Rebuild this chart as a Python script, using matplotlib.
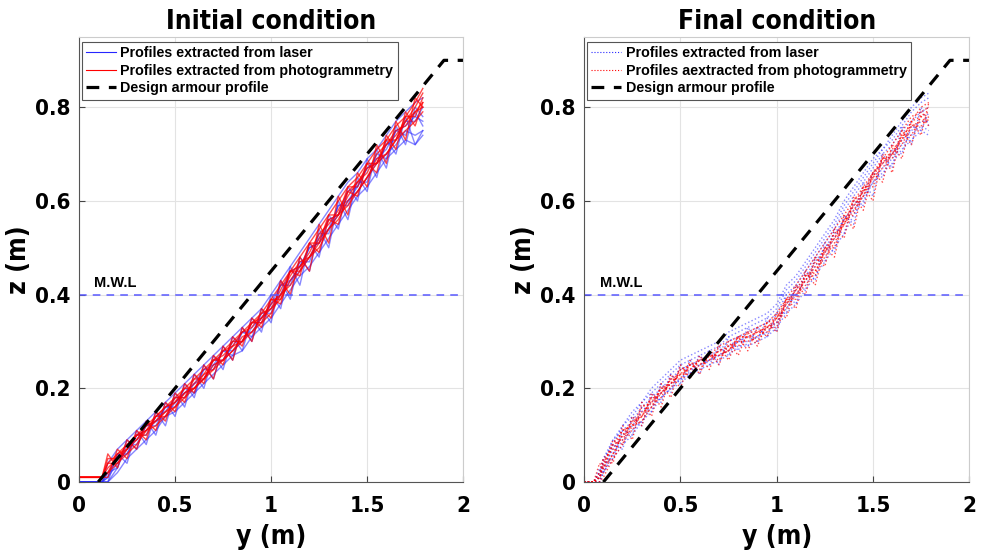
import numpy as np
import matplotlib
matplotlib.use("Agg")
from matplotlib import pyplot as plt
from matplotlib.lines import Line2D

plt.rcParams['font.family'] = ['DejaVu Sans']
plt.rcParams['font.stretch'] = 'condensed'
plt.rcParams['font.weight'] = 'bold'

# cross-shore stations (m) of the extracted profiles
y_init = [0.00, 0.12, 0.15, 0.20, 0.25, 0.30, 0.35, 0.40, 0.45, 0.50, 0.55, 0.60,
          0.65, 0.70, 0.75, 0.80, 0.85, 0.90, 0.95, 1.00, 1.05, 1.10, 1.15, 1.20,
          1.25, 1.30, 1.35, 1.40, 1.45, 1.50, 1.55, 1.60, 1.65, 1.70, 1.75, 1.79]
y_final = [0.00, 0.05, 0.08, 0.10, 0.15, 0.20, 0.25, 0.30, 0.35, 0.40, 0.45, 0.50,
           0.55, 0.60, 0.65, 0.70, 0.75, 0.80, 0.85, 0.90, 0.95, 1.00, 1.05, 1.10,
           1.15, 1.20, 1.25, 1.30, 1.35, 1.40, 1.45, 1.50, 1.55, 1.60, 1.65, 1.70,
           1.75, 1.79]

# initial condition - laser
laser_init = [
    [0, 0, 0.01, 0.06, 0.06, 0.10, 0.10, 0.14, 0.15, 0.18, 0.18, 0.21, 0.22, 0.26, 0.26, 0.30, 0.30, 0.34,
     0.34, 0.38, 0.40, 0.45, 0.46, 0.50, 0.51, 0.56, 0.57, 0.62, 0.63, 0.67, 0.68, 0.72, 0.73, 0.77, 0.77, 0.80],
    [0, 0, 0.00, 0.03, 0.08, 0.08, 0.12, 0.12, 0.16, 0.16, 0.20, 0.19, 0.24, 0.24, 0.28, 0.27, 0.32, 0.31,
     0.36, 0.36, 0.42, 0.42, 0.47, 0.47, 0.53, 0.53, 0.59, 0.59, 0.64, 0.64, 0.70, 0.69, 0.75, 0.74, 0.79, 0.76],
    [0, 0, 0.00, 0.02, 0.05, 0.07, 0.09, 0.11, 0.14, 0.15, 0.17, 0.19, 0.21, 0.23, 0.25, 0.27, 0.28, 0.31,
     0.33, 0.35, 0.38, 0.41, 0.44, 0.46, 0.49, 0.52, 0.55, 0.58, 0.61, 0.63, 0.66, 0.69, 0.71, 0.73, 0.72, 0.74],
    [0, 0, 0.04, 0.07, 0.09, 0.11, 0.13, 0.15, 0.17, 0.19, 0.21, 0.23, 0.25, 0.27, 0.29, 0.31, 0.33, 0.35,
     0.37, 0.40, 0.43, 0.46, 0.49, 0.52, 0.55, 0.58, 0.61, 0.64, 0.66, 0.69, 0.71, 0.74, 0.77, 0.79, 0.81, 0.82],
    [0, 0, 0.01, 0.04, 0.07, 0.09, 0.12, 0.13, 0.14, 0.17, 0.19, 0.20, 0.22, 0.25, 0.28, 0.28, 0.30, 0.33,
     0.35, 0.37, 0.40, 0.43, 0.45, 0.48, 0.52, 0.54, 0.57, 0.60, 0.62, 0.65, 0.68, 0.70, 0.72, 0.75, 0.74, 0.75],
    [0, 0, 0.02, 0.05, 0.06, 0.10, 0.11, 0.13, 0.16, 0.17, 0.19, 0.21, 0.24, 0.25, 0.26, 0.29, 0.32, 0.32,
     0.35, 0.38, 0.42, 0.43, 0.46, 0.50, 0.51, 0.54, 0.59, 0.60, 0.63, 0.67, 0.69, 0.71, 0.75, 0.76, 0.78, 0.77],
    [0, 0, 0.00, 0.06, 0.04, 0.11, 0.08, 0.15, 0.12, 0.19, 0.16, 0.23, 0.20, 0.27, 0.24, 0.31, 0.28, 0.35,
     0.32, 0.40, 0.37, 0.46, 0.42, 0.51, 0.48, 0.57, 0.54, 0.63, 0.60, 0.69, 0.65, 0.73, 0.70, 0.78, 0.72, 0.75],
    [0, 0, 0.02, 0.03, 0.09, 0.07, 0.13, 0.10, 0.17, 0.14, 0.21, 0.18, 0.25, 0.22, 0.29, 0.26, 0.33, 0.30,
     0.37, 0.34, 0.43, 0.39, 0.48, 0.45, 0.54, 0.50, 0.60, 0.56, 0.65, 0.62, 0.71, 0.67, 0.76, 0.72, 0.80, 0.78],
]

# initial condition - photogrammetry
photo_init = [
    [0.01, 0.01, 0.05, 0.05, 0.08, 0.09, 0.12, 0.13, 0.15, 0.17, 0.20, 0.20, 0.23, 0.26, 0.27, 0.29, 0.32, 0.33,
     0.36, 0.37, 0.41, 0.45, 0.46, 0.49, 0.53, 0.55, 0.58, 0.62, 0.64, 0.66, 0.70, 0.72, 0.74, 0.77, 0.80, 0.83],
    [0.01, 0.01, 0.02, 0.06, 0.07, 0.10, 0.11, 0.14, 0.16, 0.17, 0.19, 0.21, 0.23, 0.24, 0.28, 0.29, 0.30, 0.34,
     0.35, 0.38, 0.40, 0.44, 0.47, 0.48, 0.52, 0.56, 0.57, 0.61, 0.64, 0.67, 0.68, 0.72, 0.75, 0.76, 0.79, 0.81],
    [0.01, 0.01, 0.04, 0.04, 0.07, 0.10, 0.10, 0.14, 0.14, 0.18, 0.18, 0.22, 0.22, 0.26, 0.26, 0.30, 0.30, 0.34,
     0.34, 0.39, 0.39, 0.45, 0.45, 0.51, 0.51, 0.57, 0.57, 0.63, 0.63, 0.68, 0.68, 0.73, 0.73, 0.78, 0.78, 0.82],
    [0.01, 0.01, 0.03, 0.05, 0.07, 0.09, 0.11, 0.13, 0.15, 0.16, 0.18, 0.20, 0.22, 0.24, 0.26, 0.28, 0.30, 0.32,
     0.34, 0.36, 0.40, 0.42, 0.45, 0.48, 0.50, 0.54, 0.57, 0.59, 0.62, 0.65, 0.68, 0.70, 0.73, 0.75, 0.77, 0.79],
    [0.01, 0.01, 0.04, 0.06, 0.08, 0.10, 0.12, 0.14, 0.16, 0.18, 0.20, 0.22, 0.24, 0.26, 0.28, 0.30, 0.32, 0.34,
     0.36, 0.39, 0.42, 0.45, 0.48, 0.51, 0.54, 0.57, 0.60, 0.63, 0.65, 0.68, 0.71, 0.73, 0.76, 0.78, 0.81, 0.84],
    [0.01, 0.01, 0.02, 0.04, 0.06, 0.08, 0.11, 0.12, 0.14, 0.16, 0.19, 0.20, 0.22, 0.25, 0.26, 0.28, 0.31, 0.32,
     0.35, 0.37, 0.39, 0.43, 0.46, 0.48, 0.51, 0.54, 0.56, 0.60, 0.62, 0.65, 0.69, 0.70, 0.73, 0.77, 0.79, 0.80],
    [0.01, 0.01, 0.06, 0.03, 0.09, 0.07, 0.13, 0.11, 0.17, 0.15, 0.21, 0.19, 0.25, 0.22, 0.29, 0.26, 0.33, 0.30,
     0.37, 0.35, 0.43, 0.40, 0.48, 0.45, 0.55, 0.51, 0.61, 0.57, 0.66, 0.63, 0.72, 0.68, 0.77, 0.73, 0.82, 0.80],
    [0.01, 0.01, 0.01, 0.07, 0.05, 0.11, 0.09, 0.15, 0.13, 0.19, 0.17, 0.23, 0.21, 0.27, 0.25, 0.31, 0.29, 0.35,
     0.33, 0.39, 0.38, 0.45, 0.44, 0.51, 0.49, 0.56, 0.55, 0.62, 0.61, 0.68, 0.66, 0.74, 0.71, 0.79, 0.76, 0.81],
]

# final condition - laser
laser_final = [
    [0, 0, 0.01, 0.04, 0.09, 0.11, 0.13, 0.16, 0.18, 0.20, 0.22, 0.24, 0.25, 0.26, 0.27, 0.28, 0.30, 0.31, 0.32,
     0.33, 0.34, 0.36, 0.40, 0.42, 0.45, 0.48, 0.51, 0.54, 0.58, 0.61, 0.64, 0.67, 0.70, 0.72, 0.75, 0.77, 0.79, 0.80],
    [0, 0, 0.00, 0.02, 0.06, 0.09, 0.11, 0.13, 0.16, 0.18, 0.20, 0.21, 0.23, 0.24, 0.25, 0.26, 0.27, 0.29, 0.29,
     0.30, 0.31, 0.33, 0.36, 0.38, 0.41, 0.44, 0.47, 0.50, 0.53, 0.57, 0.60, 0.64, 0.66, 0.68, 0.71, 0.73, 0.75, 0.74],
    [0, 0, 0.02, 0.05, 0.08, 0.12, 0.14, 0.17, 0.19, 0.21, 0.23, 0.25, 0.26, 0.27, 0.28, 0.29, 0.31, 0.32, 0.33,
     0.34, 0.35, 0.37, 0.41, 0.43, 0.46, 0.49, 0.52, 0.55, 0.59, 0.62, 0.65, 0.68, 0.71, 0.73, 0.76, 0.79, 0.81, 0.82],
    [0, 0, 0.01, 0.03, 0.07, 0.10, 0.12, 0.15, 0.17, 0.19, 0.21, 0.22, 0.23, 0.25, 0.26, 0.27, 0.28, 0.30, 0.30,
     0.31, 0.33, 0.34, 0.37, 0.40, 0.43, 0.46, 0.49, 0.52, 0.56, 0.59, 0.62, 0.66, 0.68, 0.70, 0.73, 0.75, 0.77, 0.77],
    [0, 0, 0.00, 0.02, 0.05, 0.08, 0.10, 0.13, 0.15, 0.18, 0.20, 0.22, 0.24, 0.25, 0.26, 0.27, 0.29, 0.30, 0.31,
     0.31, 0.32, 0.34, 0.38, 0.41, 0.44, 0.47, 0.50, 0.53, 0.56, 0.58, 0.61, 0.64, 0.67, 0.69, 0.72, 0.74, 0.76, 0.75],
    [0, 0, 0.02, 0.05, 0.09, 0.12, 0.15, 0.17, 0.20, 0.22, 0.24, 0.26, 0.27, 0.28, 0.29, 0.30, 0.32, 0.33, 0.34,
     0.35, 0.36, 0.38, 0.42, 0.44, 0.47, 0.50, 0.53, 0.56, 0.60, 0.63, 0.66, 0.69, 0.71, 0.74, 0.77, 0.80, 0.82, 0.83],
    [0, 0, 0.03, 0.02, 0.08, 0.07, 0.14, 0.12, 0.19, 0.17, 0.23, 0.21, 0.26, 0.23, 0.28, 0.25, 0.31, 0.28, 0.33,
     0.30, 0.35, 0.32, 0.40, 0.38, 0.45, 0.43, 0.51, 0.49, 0.57, 0.55, 0.64, 0.61, 0.70, 0.67, 0.76, 0.72, 0.80, 0.76],
    [0, 0, 0.00, 0.04, 0.05, 0.11, 0.10, 0.16, 0.15, 0.21, 0.19, 0.25, 0.23, 0.27, 0.25, 0.29, 0.27, 0.31, 0.29,
     0.33, 0.31, 0.36, 0.36, 0.42, 0.41, 0.48, 0.47, 0.54, 0.53, 0.60, 0.59, 0.66, 0.65, 0.71, 0.70, 0.76, 0.75, 0.79],
]

# final condition - photogrammetry
photo_final = [
    [0, 0, 0.02, 0.03, 0.06, 0.10, 0.11, 0.15, 0.16, 0.20, 0.20, 0.24, 0.24, 0.26, 0.26, 0.28, 0.28, 0.31, 0.31,
     0.32, 0.32, 0.35, 0.38, 0.41, 0.43, 0.47, 0.49, 0.53, 0.55, 0.60, 0.62, 0.66, 0.68, 0.71, 0.73, 0.77, 0.78, 0.79],
    [0, 0, 0.01, 0.04, 0.08, 0.09, 0.13, 0.14, 0.18, 0.18, 0.22, 0.22, 0.25, 0.24, 0.27, 0.26, 0.29, 0.29, 0.31,
     0.30, 0.33, 0.33, 0.39, 0.39, 0.44, 0.44, 0.50, 0.50, 0.56, 0.57, 0.63, 0.63, 0.69, 0.69, 0.74, 0.74, 0.78, 0.76],
    [0, 0, 0.00, 0.01, 0.05, 0.08, 0.12, 0.13, 0.16, 0.19, 0.21, 0.23, 0.23, 0.25, 0.27, 0.27, 0.28, 0.30, 0.32,
     0.32, 0.33, 0.35, 0.37, 0.40, 0.42, 0.45, 0.48, 0.51, 0.55, 0.58, 0.61, 0.65, 0.67, 0.70, 0.72, 0.76, 0.76, 0.78],
    [0, 0, 0.02, 0.05, 0.07, 0.11, 0.12, 0.14, 0.18, 0.19, 0.21, 0.24, 0.25, 0.25, 0.26, 0.28, 0.29, 0.30, 0.30,
     0.31, 0.34, 0.35, 0.39, 0.40, 0.43, 0.46, 0.50, 0.52, 0.55, 0.59, 0.62, 0.65, 0.69, 0.70, 0.73, 0.77, 0.80, 0.81],
    [0, 0, 0.01, 0.02, 0.06, 0.10, 0.13, 0.14, 0.17, 0.19, 0.22, 0.23, 0.24, 0.26, 0.27, 0.27, 0.28, 0.31, 0.31,
     0.32, 0.33, 0.34, 0.38, 0.41, 0.44, 0.45, 0.49, 0.52, 0.56, 0.59, 0.61, 0.66, 0.68, 0.70, 0.74, 0.76, 0.77, 0.77],
    [0, 0, 0.01, 0.03, 0.08, 0.11, 0.12, 0.16, 0.17, 0.20, 0.21, 0.23, 0.25, 0.26, 0.27, 0.29, 0.30, 0.31, 0.32,
     0.33, 0.34, 0.36, 0.39, 0.42, 0.45, 0.48, 0.51, 0.54, 0.57, 0.60, 0.63, 0.66, 0.69, 0.72, 0.75, 0.78, 0.79, 0.80],
    [0, 0, 0.04, 0.03, 0.09, 0.08, 0.14, 0.12, 0.19, 0.16, 0.23, 0.20, 0.26, 0.23, 0.28, 0.25, 0.30, 0.27, 0.32,
     0.29, 0.34, 0.32, 0.39, 0.37, 0.45, 0.42, 0.50, 0.48, 0.57, 0.54, 0.63, 0.60, 0.70, 0.66, 0.75, 0.72, 0.79, 0.77],
    [0, 0, 0.00, 0.05, 0.04, 0.12, 0.09, 0.17, 0.14, 0.21, 0.18, 0.25, 0.22, 0.27, 0.24, 0.29, 0.26, 0.31, 0.28,
     0.33, 0.31, 0.36, 0.35, 0.42, 0.40, 0.48, 0.46, 0.54, 0.52, 0.61, 0.58, 0.66, 0.64, 0.72, 0.69, 0.77, 0.74, 0.81],
]

# design armour profile (1:2 slope, crest at 0.9 m)
design_y = [0.1, 1.9, 2.0]
design_z = [0.0, 0.9, 0.9]
mwl = 0.4

blue = (0.15, 0.15, 1.0)
red = (1.0, 0.0, 0.0)
txt_font = ['Liberation Sans', 'DejaVu Sans']

fig = plt.figure(figsize=(9.85, 5.55), dpi=100)
ax1 = fig.add_axes([0.0802, 0.1315, 0.390, 0.8020])
ax2 = fig.add_axes([0.5930, 0.1315, 0.391, 0.8020])

panels = [
    (ax1, 'Initial condition', y_init, laser_init, photo_init, '-',
     ['Profiles extracted from laser', 'Profiles extracted from photogrammetry']),
    (ax2, 'Final condition', y_final, laser_final, photo_final, ':',
     ['Profiles extracted from laser', 'Profiles aextracted from photogrammetry']),
]

for ax, title, yy, las, pho, ls, names in panels:
    for z in las:
        ax.plot(yy, z, ls, color=blue, lw=1.0, alpha=0.55)
    for z in pho:
        ax.plot(yy, z, ls, color=red, lw=1.0, alpha=0.7)
    ax.axhline(mwl, color=(0.35, 0.35, 1.0), ls=(0, (5, 4)), lw=1.1)
    ax.text(0.08, mwl + 0.01, 'M.W.L', fontsize=10.5, fontweight='bold',
            family=txt_font, stretch='normal', va='bottom')
    ax.plot(design_y, design_z, color='black', lw=2.3, dashes=(4, 3))

    ax.set_xlim(0, 2)
    ax.set_ylim(0, 0.95)
    ax.set_xticks([0, 0.5, 1, 1.5, 2])
    ax.set_xticklabels(['0', '0.5', '1', '1.5', '2'])
    ax.set_yticks([0, 0.2, 0.4, 0.6, 0.8])
    ax.set_yticklabels(['0', '0.2', '0.4', '0.6', '0.8'])
    ax.grid(True, color='#e3e3e3', lw=0.8)
    ax.set_axisbelow(True)
    ax.tick_params(direction='in', length=4, labelsize=16, color='#444444')
    ax.tick_params(axis='x', pad=10)
    ax.tick_params(axis='y', pad=6)
    for s in ['top', 'right']:
        ax.spines[s].set_color('#cccccc')
    for s in ['left', 'bottom']:
        ax.spines[s].set_color('#555555')
    ax.set_title(title, fontsize=19, fontweight='bold', pad=6)
    ax.set_xlabel('y (m)', fontsize=19, fontweight='bold', labelpad=6)
    ax.set_ylabel('z (m)', fontsize=19, fontweight='bold', labelpad=2)

    handles = [Line2D([], [], ls=ls, color=blue, lw=0.8),
               Line2D([], [], ls=ls, color=red, lw=0.8),
               Line2D([], [], color='black', lw=2.3, dashes=(4, 3))]
    leg = ax.legend(handles, names + ['Design armour profile'], loc='upper left',
                    bbox_to_anchor=(0.0, 0.995), borderaxespad=0.2, fancybox=False,
                    framealpha=1, edgecolor='#555555', handlelength=2.1,
                    handletextpad=0.3, labelspacing=0.25, borderpad=0.3,
                    prop={'family': txt_font, 'stretch': 'normal',
                          'weight': 'bold', 'size': 10.3})
    leg.get_frame().set_linewidth(0.8)

fig.savefig('out.png', dpi=100)
